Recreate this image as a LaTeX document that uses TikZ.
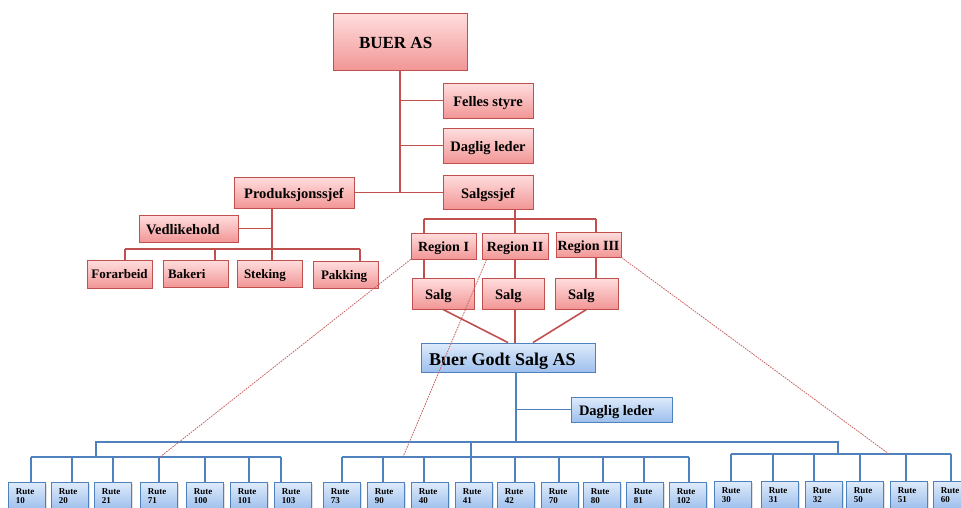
\documentclass[tikz,border=0pt]{standalone}
\usepackage{fontspec}
\setmainfont{Liberation Serif}
\usetikzlibrary{shadows}

\definecolor{redline}{RGB}{192,80,77}
\definecolor{redtop}{RGB}{255,222,222}
\definecolor{redbot}{RGB}{242,150,150}
\definecolor{blueline}{RGB}{79,129,189}
\definecolor{bluetop}{RGB}{222,235,251}
\definecolor{bluebot}{RGB}{158,191,236}

\tikzset{
    redbox/.style={draw=redline, line width=0.9pt, top color=redtop, bottom color=redbot, inner sep=0pt,
        drop shadow={shadow xshift=1.2pt, shadow yshift=-1.4pt, opacity=0.25}},
    bluebox/.style={draw=blueline, line width=0.9pt, top color=bluetop, bottom color=bluebot, inner sep=0pt,
        drop shadow={shadow xshift=1.2pt, shadow yshift=-1.4pt, opacity=0.25}},
    wh/.style 2 args={minimum width=#1pt, minimum height=#2pt},
    lpad/.style 2 args={text width=#1pt, inner xsep=#2pt, align=flush left},
    bigtxt/.style={font=\bfseries\fontsize{17}{20}\selectfont, text height=13.6pt, text depth=0pt},
    bgstxt/.style={font=\bfseries\fontsize{18}{21}\selectfont, text height=16pt, text depth=0pt},
    midtxt/.style={font=\bfseries\fontsize{14.5}{17}\selectfont, text height=12.5pt, text depth=0pt},
    regtxt/.style={font=\bfseries\fontsize{14}{16}\selectfont, text height=11.4pt, text depth=0pt},
    lowtxt/.style={font=\bfseries\fontsize{13}{15}\selectfont, text height=9pt, text depth=0pt},
    rute/.style={bluebox, anchor=north west, minimum width=37pt, minimum height=27pt, text width=22pt,
        inner xsep=7.5pt, align=flush left, font=\bfseries\fontsize{9}{9.5}\selectfont},
    rline/.style={draw=redline, line width=1.6pt},
    bthin/.style={draw=blueline, line width=1.2pt},
    bthick/.style={draw=blueline, line width=2.8pt},
    rdash/.style={draw=redline!90, line width=0.8pt, dash pattern=on 1.6pt off 1pt}
}

\begin{document}
\begin{tikzpicture}[x=1pt, y=-1pt]
    \clip[use as bounding box] (0,0) rectangle (961,507);

    % Buer AS
    \node[redbox, wh={134}{57}, lpad={82}{26}, bigtxt] (buer) at (400,41.5) {BUER AS};
    \node[redbox, wh={90}{35}, midtxt] (felles) at (488,100.5) {Felles styre};
    \node[redbox, wh={90}{35}, midtxt] (leder) at (488,145.5) {Daglig leder};
    \node[redbox, wh={90}{34}, midtxt] (salgssjef) at (488,192) {Salgssjef};
    \node[redbox, wh={120}{31}, midtxt] (prod) at (294,192.5) {Produksjonssjef};
    \node[redbox, wh={99}{27}, lpad={85}{7}, midtxt] (vedl) at (188.5,228.5) {Vedlikehold};
    \node[redbox, wh={65}{28}, lowtxt] (forarb) at (119.5,274) {Forarbeid};
    \node[redbox, wh={65}{27}, lpad={55}{5}, lowtxt] (bakeri) at (195.5,273.5) {Bakeri};
    \node[redbox, wh={65}{27}, lpad={51}{7}, lowtxt] (steking) at (269.5,273.5) {Steking};
    \node[redbox, wh={65}{27}, lpad={49}{8}, lowtxt] (pakking) at (345.5,274.5) {Pakking};
    \node[redbox, wh={65}{26}, regtxt] (reg1) at (443.5,246) {Region I};
    \node[redbox, wh={66}{26}, regtxt] (reg2) at (515,246) {Region II};
    \node[redbox, wh={65}{25}, regtxt] (reg3) at (588.5,244.5) {Region III};
    \node[redbox, wh={62}{31}, lpad={36}{13}, midtxt] (salg1) at (443,293.5) {Salg};
    \node[redbox, wh={62}{31}, lpad={36}{13}, midtxt] (salg2) at (513,293.5) {Salg};
    \node[redbox, wh={63}{31}, lpad={37}{13}, midtxt] (salg3) at (586.5,293.5) {Salg};

    \draw[rline] (buer.south) -- (buer.south |- prod.east);
    \draw[rline] (felles.west) -- (felles.west -| buer.south);
    \draw[rline] (leder.west) -- (leder.west -| buer.south);
    \draw[rline] (prod.east) -- (prod.east -| salgssjef.west);

    \coordinate (pv) at (272,249);
    \coordinate (b1) at (125,249);
    \coordinate (b2) at (215,249);
    \coordinate (b4) at (360,249);
    \draw[rline] (prod.south -| pv) -- (pv |- steking.north);
    \draw[rline] (vedl.east) -- (vedl.east -| pv);
    \draw[rline] (b1) -- (b4);
    \draw[rline] (b1) -- (b1 |- forarb.north);
    \draw[rline] (b2) -- (b2 |- bakeri.north);
    \draw[rline] (b4) -- (b4 |- pakking.north);

    \coordinate (g1) at (424,219);
    \coordinate (g2) at (515,219);
    \coordinate (g3) at (596,219);
    \draw[rline] (salgssjef.south -| g2) -- (g2);
    \draw[rline] (g1) -- (g3);
    \draw[rline] (g1) -- (g1 |- reg1.north);
    \draw[rline] (g2) -- (g2 |- reg2.north);
    \draw[rline] (g3) -- (g3 |- reg3.north);
    \draw[rline] (reg1.south -| g1) -- (salg1.north -| g1);
    \draw[rline] (reg2.south -| g2) -- (salg2.north -| g2);
    \draw[rline] (reg3.south -| g3) -- (salg3.north -| g3);

    % Buer Godt Salg AS
    \node[bluebox, wh={174}{29}, lpad={158}{8}, bgstxt] (bgs) at (508,357.5) {Buer Godt Salg AS};
    \node[bluebox, wh={101}{25}, lpad={85}{8}, midtxt, text height=11pt] (leder2) at (621.5,409.5) {Daglig leder};

    \draw[rline] (salg1.south) -- (bgs.north);
    \draw[rline] (salg2.south -| g2) -- (bgs.north -| g2);
    \draw[rline] (salg3.south) -- ([xshift=25pt]bgs.north);

    \coordinate (tr) at (516,442);
    \coordinate (h1) at (96,442);
    \coordinate (h2) at (471,442);
    \coordinate (h3) at (838,442);
    \coordinate (bus1) at (31,457);
    \coordinate (bus2) at (342,457);
    \coordinate (bus3) at (731,454);
    \draw[bthick] (bgs.south -| tr) -- (tr);
    \draw[bthin] (leder2.west) -- (leder2.west -| tr);
    \draw[bthick] (h1 |- bus1) -- (h1) -- (h3) -- (h3 |- bus3);
    \draw[bthick] (h2) -- (h2 |- bus2);

    \foreach \n/\bx/\dx in {10/8/31, 20/51/72, 21/94/113, 71/140/159, 100/186/205, 101/230/249, 103/274/281}{
        \node[rute] (r\n) at (\bx,482) {Rute\\\n};
        \path (r\n.north west) ++(\dx-\bx,0) coordinate (d\n);
        \draw[bthin] (d\n) -- (d\n |- bus1);
    }
    \draw[bthin] (bus1) -- (bus1 -| d103);

    \foreach \n/\bx/\dx in {73/323/342, 90/367/383, 40/411/424, 41/455/471, 42/497/515, 70/541/559, 80/583/603, 81/626/644, 102/669/689}{
        \node[rute] (r\n) at (\bx,482) {Rute\\\n};
        \path (r\n.north west) ++(\dx-\bx,0) coordinate (d\n);
        \draw[bthin] (d\n) -- (d\n |- bus2);
    }
    \draw[bthin] (bus2) -- (bus2 -| d102);

    \foreach \n/\bx/\dx in {30/714/731, 31/761/773, 32/805/814, 50/846/860, 51/890/906, 60/933/951}{
        \node[rute] (r\n) at (\bx,481) {Rute\\\n};
        \path (r\n.north west) ++(\dx-\bx,0) coordinate (d\n);
        \draw[bthin] (d\n) -- (d\n |- bus3);
    }
    \draw[bthin] (bus3) -- (bus3 -| d60);

    \coordinate (e1) at (160,457);
    \coordinate (e2) at (403,457);
    \coordinate (e3) at (889,454);
    \draw[rdash] (reg1.south west) -- (e1);
    \draw[rdash] ([xshift=5pt]reg2.south west) -- (e2);
    \draw[rdash] (reg3.south east) -- (e3);
\end{tikzpicture}
\end{document}
